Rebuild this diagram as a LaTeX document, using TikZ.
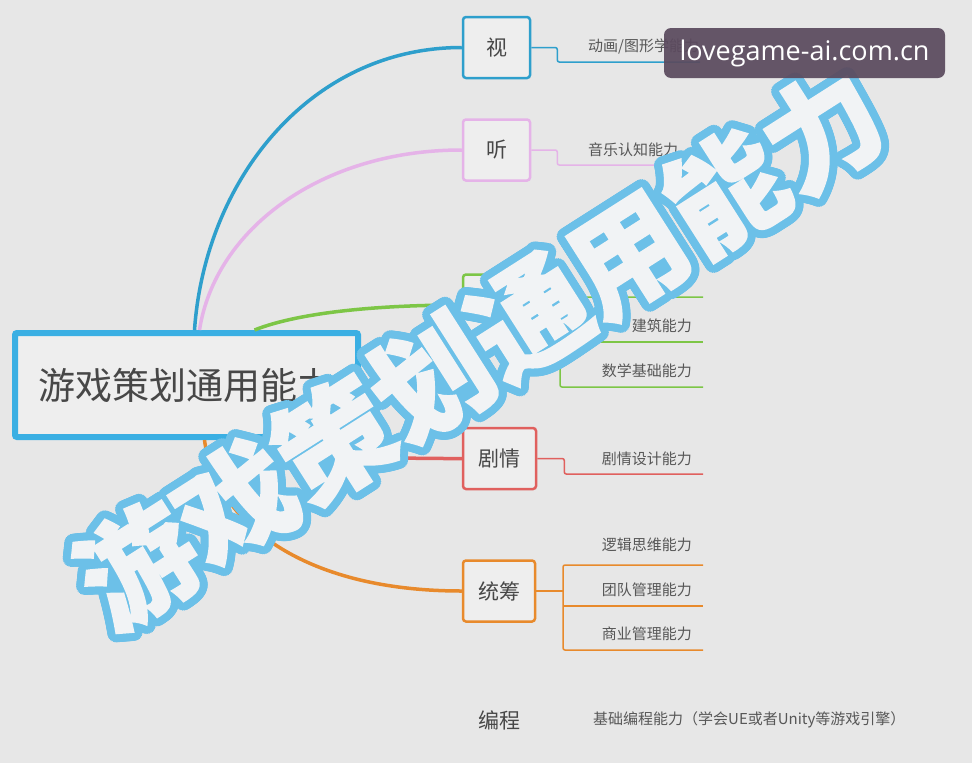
\documentclass[tikz,border=0pt]{standalone}
\usepackage{fontspec}
\newfontfamily\cjk{Noto Sans CJK SC}
\newfontfamily\wmfont{Noto Sans CJK SC}[BoldFeatures={FakeBold=1.5}]
\newfontfamily\tagfont{Open Sans}
\usetikzlibrary{positioning}

\definecolor{bg}{HTML}{E7E7E7}
\definecolor{boxfill}{HTML}{EEEEEE}
\definecolor{ink}{HTML}{474747}
\definecolor{leafink}{HTML}{575757}
\definecolor{cblue}{HTML}{2E9FCC}
\definecolor{cpink}{HTML}{E5B3E8}
\definecolor{cgreen}{HTML}{7DC646}
\definecolor{cred}{HTML}{E0605E}
\definecolor{corange}{HTML}{E88A2C}
\definecolor{rootblue}{HTML}{3AAFE3}
\definecolor{wmblue}{HTML}{6CC0E8}
\definecolor{wmwhite}{HTML}{F1F3F5}
\definecolor{tagbg}{HTML}{5B4A5E}

\tikzset{
  rootbox/.style={draw=rootblue, line width=6pt, rounded corners=2pt, fill=boxfill,
    minimum width=343pt, minimum height=104pt, inner sep=0pt, text=ink,
    font=\cjk\fontsize{37}{40}\selectfont},
  topic/.style={draw=#1, line width=2.5pt, rounded corners=3pt, fill=boxfill,
    minimum width=67pt, minimum height=61pt, inner sep=0pt, text=ink,
    font=\cjk\fontsize{21}{24}\selectfont},
  leaf/.style={text=leafink, inner sep=0pt, font=\cjk\fontsize{15}{18}\selectfont},
  branch/.style={#1, line width=3.5pt},
  twig/.style={#1, line width=1.5pt, rounded corners=2pt},
  wmark/.style={rotate=32.5, inner sep=0pt, font=\wmfont\bfseries\fontsize{116}{124}\selectfont},
  tagbox/.style={fill=tagbg, fill opacity=0.93, text opacity=1, rounded corners=7pt,
    minimum width=281pt, minimum height=50pt, text=white,
    font=\tagfont\fontsize{27}{30}\selectfont}
}

\begin{document}
\begin{tikzpicture}[x=1pt,y=-1pt]
  \fill[bg] (0,0) rectangle (972,763);
  \useasboundingbox (0,0) rectangle (972,763);

  % centre and first level
  \node[rootbox]                          (root)     at (186.5,385) {游戏策划通用能力};
  \node[topic=cblue]                      (shi)      at (496.5,47.5) {视};
  \node[topic=cpink]                      (ting)     at (496.5,150)  {听};
  \node[topic=cgreen]                     (kong)     at (496.5,305)  {};
  \node[topic=cred, minimum width=73pt]   (juqing)   at (499.5,458.5) {剧情};
  \node[topic=corange, minimum width=72pt] (tongchou) at (499,591)   {统筹};
  \node[leaf, font=\cjk\fontsize{21}{24}\selectfont, text=ink] (biancheng) at (499,720) {编程};

  % leaves
  \node[leaf, anchor=west] (l-shi)  at (588,46)  {动画/图形学能力};
  \node[leaf, anchor=west] (l-ting) at (588,150) {音乐认知能力};
  \node[leaf, anchor=east] (l-g2)   at (692,326) {建筑能力};
  \node[leaf, anchor=east] (l-g3)   at (692,371) {数学基础能力};
  \node[leaf, anchor=east] (l-jq)   at (692,459) {剧情设计能力};
  \node[leaf, anchor=east] (l-o1)   at (692,545) {逻辑思维能力};
  \node[leaf, anchor=east] (l-o2)   at (692,590) {团队管理能力};
  \node[leaf, anchor=east] (l-o3)   at (692,634) {商业管理能力};
  \node[leaf, anchor=west] (l-bc)   at (593,720) {基础编程能力（学会UE或者Unity等游戏引擎）};

  \coordinate (e-shi)  at (700,62);
  \coordinate (e-ting) at (700,165);
  \coordinate (e-g1)   at (703,297);
  \coordinate (e-g2)   at (703,342);
  \coordinate (e-g3)   at (703,387);
  \coordinate (e-jq)   at (703,474);
  \coordinate (e-o1)   at (703,565);
  \coordinate (e-o2)   at (703,606);
  \coordinate (e-o3)   at (703,650);

  % main branches
  \draw[branch=cblue]   ([xshift=8pt]root.north)   .. controls (205,180) and (310,47.5) .. (shi.west);
  \draw[branch=cpink]   ([xshift=13pt]root.north)  .. controls (215,230) and (320,150) .. (ting.west);
  \draw[branch=cgreen]  ([xshift=68pt]root.north)  .. controls (300,312) and (380,305) .. (kong.west);
  \draw[branch=cred]    ([xshift=120pt]root.south) .. controls (350,459) and (400,458.5) .. (juqing.west);
  \draw[branch=corange] ([xshift=18pt]root.south)  .. controls (215,520) and (300,591) .. (tongchou.west);

  % sub branches
  \draw[twig=cblue]  (shi.east)  -- ++(26,0) |- (e-shi);
  \draw[twig=cpink]  (ting.east) -- ++(26,0) |- (e-ting);
  \draw[twig=cgreen] (kong.east) -- (560,305);
  \draw[twig=cgreen] (e-g1) -- (560,297) -- (560,387) -- (e-g3);
  \draw[twig=cgreen] (560,342) -- (e-g2);
  \draw[twig=cred]   (juqing.east) -- ++(27,0) |- (e-jq);
  \draw[twig=corange] (tongchou.east) -- (563,591);
  \draw[twig=corange] (e-o1) -- (563,565) -- (563,650) -- (e-o3);
  \draw[twig=corange] (563,606) -- (e-o2);

  % watermark
  \begin{scope}[shift={(480,347)}]
    \foreach \a in {0,12,...,348}
      \node[wmark, text=wmblue] at (\a:8) {游戏策划通用能力};
    \node[wmark, text=wmwhite] (wm) at (0,0) {游戏策划通用能力};
  \end{scope}
  \node[tagbox] (site) at (804.5,53) {lovegame-ai.com.cn};
\end{tikzpicture}
\end{document}
